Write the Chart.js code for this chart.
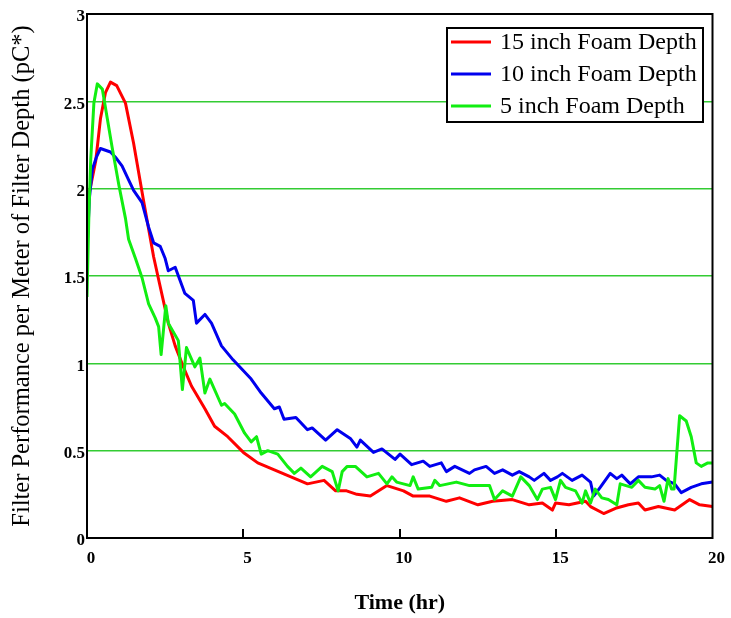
<!DOCTYPE html>
<html>
<head>
<meta charset="utf-8">
<script src="https://cdn.jsdelivr.net/npm/chart.js@4.4.1/dist/chart.umd.min.js"></script>
<style>
  html, body { margin: 0; padding: 0; background: #fff; }
  canvas { display: block; }
</style>
</head>
<body>
<canvas id="c" width="731" height="618"></canvas>
<script>
// ---- Data ----
const seriesLabels = ['15 inch Foam Depth', '10 inch Foam Depth', '5 inch Foam Depth'];
const xTicks = [0, 5, 10, 15, 20];
const yTicks = [0, 0.5, 1, 1.5, 2, 2.5, 3];
const yTickLabels = ['0', '0.5', '1', '1.5', '2', '2.5', '3'];

const redX = [0, 0.28, 0.43, 0.59, 0.75, 0.95, 1.23, 1.49, 1.81, 2.13, 2.29, 2.6, 2.82, 3.08, 3.34, 3.77, 4.08, 4.5, 5.0, 5.46, 5.99, 6.52, 7.05, 7.58, 7.95, 8.3, 8.63, 9.06, 9.59, 10.12, 10.43, 10.96, 11.49, 11.91, 12.5, 12.97, 13.6, 14.14, 14.56, 14.88, 14.98, 15.41, 15.94, 16.1, 16.52, 16.9, 17.31, 17.63, 17.84, 18.27, 18.79, 19.27, 19.59, 20];
const redY = [1.91, 2.16, 2.40, 2.55, 2.61, 2.59, 2.49, 2.26, 1.93, 1.61, 1.48, 1.23, 1.10, 0.98, 0.87, 0.74, 0.64, 0.58, 0.49, 0.43, 0.39, 0.35, 0.31, 0.33, 0.27, 0.27, 0.25, 0.24, 0.30, 0.27, 0.24, 0.24, 0.21, 0.23, 0.19, 0.21, 0.22, 0.19, 0.20, 0.16, 0.20, 0.19, 0.21, 0.18, 0.14, 0.17, 0.19, 0.20, 0.16, 0.18, 0.16, 0.22, 0.19, 0.18];

const blueX = [0, 0.08, 0.17, 0.3, 0.43, 0.75, 0.91, 1.12, 1.33, 1.49, 1.76, 1.97, 2.13, 2.34, 2.5, 2.6, 2.82, 3.13, 3.4, 3.5, 3.77, 3.98, 4.3, 4.67, 5.25, 5.57, 5.99, 6.15, 6.3, 6.68, 7.05, 7.2, 7.63, 8.0, 8.42, 8.63, 8.74, 9.16, 9.43, 9.85, 10.01, 10.38, 10.75, 10.96, 11.33, 11.49, 11.76, 12.23, 12.39, 12.76, 13.03, 13.29, 13.6, 13.82, 14.14, 14.3, 14.61, 14.82, 15.04, 15.2, 15.51, 15.83, 16.1, 16.2, 16.41, 16.73, 16.94, 17.1, 17.37, 17.63, 18.05, 18.31, 18.52, 18.79, 19.0, 19.32, 19.64, 20];
const blueY = [1.65, 1.95, 2.11, 2.18, 2.23, 2.21, 2.18, 2.13, 2.05, 1.99, 1.92, 1.78, 1.69, 1.67, 1.60, 1.53, 1.55, 1.40, 1.36, 1.23, 1.28, 1.23, 1.10, 1.02, 0.91, 0.83, 0.74, 0.75, 0.68, 0.69, 0.62, 0.63, 0.56, 0.62, 0.57, 0.52, 0.56, 0.49, 0.51, 0.45, 0.48, 0.42, 0.44, 0.41, 0.43, 0.38, 0.41, 0.37, 0.39, 0.41, 0.37, 0.39, 0.36, 0.38, 0.35, 0.33, 0.37, 0.33, 0.35, 0.37, 0.33, 0.36, 0.32, 0.24, 0.29, 0.37, 0.34, 0.36, 0.31, 0.35, 0.35, 0.36, 0.33, 0.31, 0.26, 0.29, 0.31, 0.32];

const greenX = [0, 0.06, 0.12, 0.22, 0.33, 0.49, 0.65, 0.8, 1.02, 1.23, 1.33, 1.55, 1.76, 1.97, 2.18, 2.29, 2.37, 2.52, 2.6, 2.92, 3.05, 3.18, 3.45, 3.61, 3.77, 3.93, 4.3, 4.4, 4.72, 5.04, 5.25, 5.42, 5.57, 5.78, 6.1, 6.41, 6.63, 6.84, 7.15, 7.52, 7.84, 8.03, 8.16, 8.32, 8.58, 8.95, 9.32, 9.59, 9.75, 9.9, 10.33, 10.43, 10.59, 11.02, 11.12, 11.28, 11.81, 12.23, 12.87, 13.03, 13.29, 13.6, 13.87, 14.14, 14.4, 14.56, 14.82, 14.98, 15.14, 15.3, 15.62, 15.83, 15.94, 16.1, 16.25, 16.46, 16.67, 16.94, 17.05, 17.42, 17.63, 17.84, 18.16, 18.31, 18.45, 18.58, 18.69, 18.77, 18.95, 19.16, 19.32, 19.48, 19.64, 19.85, 20];
const greenY = [1.38, 1.85, 2.17, 2.49, 2.60, 2.57, 2.40, 2.24, 2.02, 1.83, 1.71, 1.60, 1.49, 1.34, 1.26, 1.21, 1.05, 1.33, 1.23, 1.13, 0.85, 1.09, 0.98, 1.03, 0.83, 0.91, 0.76, 0.77, 0.71, 0.60, 0.55, 0.58, 0.48, 0.50, 0.48, 0.41, 0.37, 0.40, 0.35, 0.41, 0.38, 0.27, 0.38, 0.41, 0.41, 0.35, 0.37, 0.31, 0.35, 0.32, 0.30, 0.35, 0.28, 0.29, 0.33, 0.30, 0.32, 0.30, 0.30, 0.22, 0.27, 0.24, 0.35, 0.30, 0.22, 0.28, 0.29, 0.22, 0.33, 0.29, 0.27, 0.20, 0.27, 0.20, 0.28, 0.23, 0.22, 0.19, 0.31, 0.29, 0.33, 0.29, 0.28, 0.30, 0.21, 0.34, 0.28, 0.28, 0.70, 0.67, 0.58, 0.43, 0.41, 0.43, 0.43];

const seriesColors = ['#ff0000', '#0000ee', '#11ee11'];
const gridGreen = '#33cc33';
const serif = "'Liberation Serif', 'Times New Roman', serif";

function pts(xs, ys) { return xs.map((x, i) => ({ x: x, y: ys[i] })); }

const framePlugin = {
  id: 'frame',
  afterDraw(chart) {
    const { ctx, chartArea: a, scales } = chart;
    ctx.save();
    ctx.strokeStyle = '#000';
    ctx.lineWidth = 2;
    ctx.strokeRect(a.left, a.top, a.right - a.left, a.bottom - a.top);
    xTicks.forEach(v => {
      if (v === xTicks[0] || v === xTicks[xTicks.length - 1]) return;
      const px = Math.round(scales.x.getPixelForValue(v));
      ctx.beginPath();
      ctx.moveTo(px, a.bottom);
      ctx.lineTo(px, a.bottom - 9);
      ctx.stroke();
    });
    const bx = 447, by = 28, bw = 256, bh = 94;
    ctx.fillStyle = '#fff';
    ctx.fillRect(bx, by, bw, bh);
    ctx.lineWidth = 2;
    ctx.strokeStyle = '#000';
    ctx.strokeRect(bx, by, bw, bh);
    ctx.font = '24px ' + serif;
    ctx.textBaseline = 'middle';
    ctx.textAlign = 'left';
    chart.data.datasets.forEach((ds, i) => {
      const ly = 42 + i * 32;
      ctx.strokeStyle = ds.borderColor;
      ctx.lineWidth = 3;
      ctx.beginPath();
      ctx.moveTo(451, ly);
      ctx.lineTo(491, ly);
      ctx.stroke();
      ctx.fillStyle = '#000';
      ctx.fillText(ds.label, 500, ly + 1);
    });
    ctx.restore();
  }
};

new Chart(document.getElementById('c'), {
  type: 'line',
  data: {
    datasets: [
      { label: seriesLabels[0], data: pts(redX, redY), borderColor: seriesColors[0], order: 2 },
      { label: seriesLabels[1], data: pts(blueX, blueY), borderColor: seriesColors[1], order: 1 },
      { label: seriesLabels[2], data: pts(greenX, greenY), borderColor: seriesColors[2], order: 0 }
    ]
  },
  options: {
    responsive: false,
    animation: false,
    devicePixelRatio: 1,
    layout: { padding: { top: 14, right: 14, left: 0, bottom: 0 } },
    elements: {
      line: { borderWidth: 3, tension: 0, borderJoinStyle: 'round', fill: false },
      point: { radius: 0 }
    },
    plugins: { legend: { display: false }, tooltip: { enabled: false } },
    scales: {
      x: {
        type: 'linear', min: 0, max: 20,
        afterBuildTicks: s => { s.ticks = xTicks.map(v => ({ value: v })); },
        afterFit: s => { s.height = 80; },
        grid: { display: false, drawTicks: false },
        border: { display: true, color: '#000', width: 2 },
        ticks: { color: '#000', padding: 10, labelOffset: 4, maxRotation: 0,
                 callback: v => String(v),
                 font: { family: serif, size: 17, weight: 'bold' } },
        title: { display: true, text: 'Time (hr)', color: '#000',
                 font: { family: serif, size: 22, weight: 'bold' },
                 padding: { top: 0, bottom: 1 } }
      },
      y: {
        type: 'linear', min: 0, max: 3,
        afterBuildTicks: s => { s.ticks = yTicks.map(v => ({ value: v })); },
        afterFit: s => { s.width = 87; },
        grid: { drawTicks: false, lineWidth: 1.5,
                color: c => (c.tick && (c.tick.value === 0 || c.tick.value === 3)) ? 'rgba(0,0,0,0)' : gridGreen },
        border: { display: true, color: '#000', width: 2 },
        ticks: { color: '#000', padding: 2, labelOffset: 3,
                 callback: (v, i) => yTickLabels[i],
                 font: { family: serif, size: 17, weight: 'bold' } },
        title: { display: true, text: 'Filter Performance per Meter of Filter Depth (pC*)', color: '#000',
                 font: { family: serif, size: 24.5, weight: 'normal' },
                 padding: { top: 8, bottom: 0 } }
      }
    }
  },
  plugins: [framePlugin]
});
</script>
</body>
</html>
